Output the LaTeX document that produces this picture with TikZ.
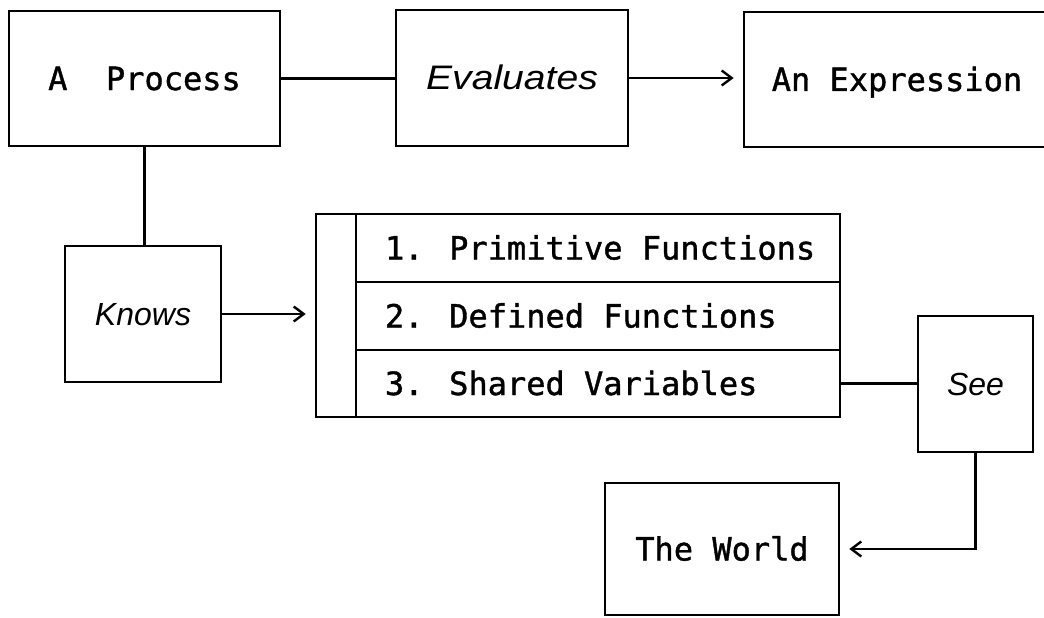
\documentclass[tikz,border=0pt]{standalone}
\usepackage{fontspec}
\usepackage{graphicx}
\newfontfamily\monofam{DejaVu Sans Mono}[FakeBold=1.2]
\newfontfamily\lsansfam{Liberation Sans}
\usetikzlibrary{arrows.meta}
\newcommand\ttbig{\monofam\fontsize{32pt}{36pt}\selectfont}
\newcommand\itbig{\lsansfam\itshape\fontsize{32pt}{36pt}\selectfont}
\newcommand\itbigger{\lsansfam\itshape\fontsize{34pt}{38pt}\selectfont}
\begin{document}
\begin{tikzpicture}[x=1pt,y=-1pt,
  box/.style={draw, line width=2.6pt, rectangle, inner sep=0pt,
              text height=23pt, text depth=0pt, font=\ttbig},
  conn/.style={line width=2.6pt},
  arr/.style={line width=2.6pt, -{Straight Barb[length=10pt,width=15pt,line width=2.4pt]}, shorten >=9pt}]
\fill[white] (0,0) rectangle (1044,618);
\clip (0,0) rectangle (1044,618);
% top row
\node[box, minimum width=271pt, minimum height=135pt] (process) at (144.5,78.5) {A\ \ Process};
\node[box, minimum width=232pt, minimum height=136pt] (eval) at (512,78) {\scalebox{1.15}[1]{\itbigger Evaluates}};
\node[box, minimum width=306pt, minimum height=135pt] (expr) at (897,79.5) {An Expression};
% knows
\node[box, minimum width=156pt, minimum height=136pt, font=\itbig] (knows) at (143,314) {Knows};
% stacked list
\node[box, minimum width=40pt, minimum height=203pt] (col) at (336,315.5) {};
\node[box, minimum width=484pt, minimum height=68pt] (row1) at (598,248) {\makebox[426pt][l]{1. Primitive Functions}};
\node[box, minimum width=484pt, minimum height=68pt] (row2) at (598,316) {\makebox[426pt][l]{2. Defined Functions}};
\node[box, minimum width=484pt, minimum height=67pt] (row3) at (598,383.5) {\makebox[426pt][l]{3. Shared Variables}};
% see and world
\node[box, minimum width=115pt, minimum height=136pt, font=\itbig] (see) at (975.5,384) {See};
\node[box, minimum width=234pt, minimum height=132pt] (world) at (722,549) {The World};
% connectors
\draw[conn] (process.east) -- (process.east -| eval.west);
\draw[arr] (eval.east) -- (eval.east -| expr.west);
\draw[conn] (process.south) -- (process.south |- knows.north);
\draw[arr] (knows.east) -- (knows.east -| col.west);
\draw[conn] (row3.east) -- (row3.east -| see.west);
\draw[arr] (see.south) -- (see.south |- world.east) -- (world.east);
\end{tikzpicture}
\end{document}
